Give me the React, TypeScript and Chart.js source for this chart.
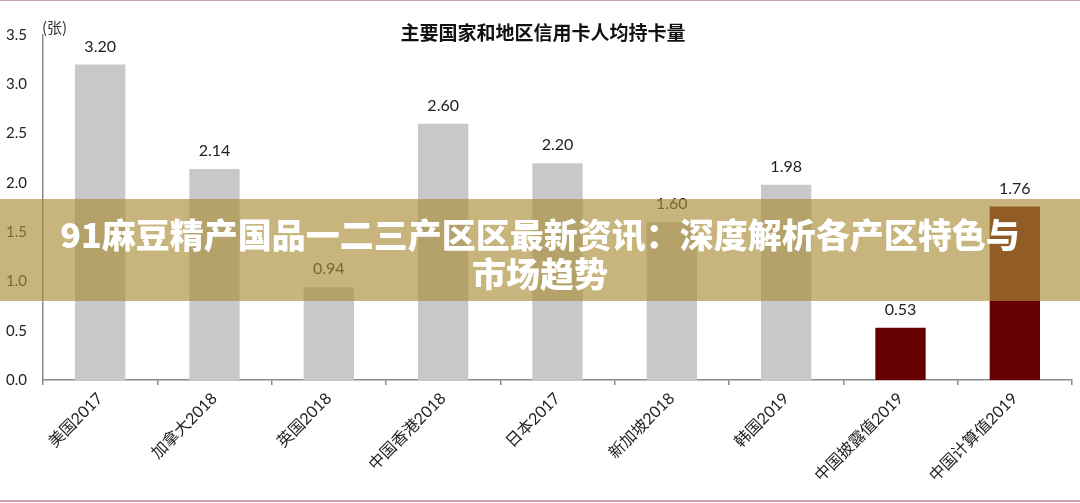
import React, { useEffect, useRef } from "react";
import { Chart, registerables } from "chart.js";

Chart.register(...registerables);

const categories = [
  "美国2017",
  "加拿大2018",
  "英国2018",
  "中国香港2018",
  "日本2017",
  "新加坡2018",
  "韩国2019",
  "中国披露值2019",
  "中国计算值2019",
];
const cardsPerPerson = [3.2, 2.14, 0.94, 2.6, 2.2, 1.6, 1.98, 0.53, 1.76];
const barColors = [
  "#c8c8c8",
  "#c8c8c8",
  "#c8c8c8",
  "#c8c8c8",
  "#c8c8c8",
  "#c8c8c8",
  "#c8c8c8",
  "#660000",
  "#660000",
];
const chartTitle = "主要国家和地区信用卡人均持卡量";
const unitLabel = "(张)";
const bannerLine1 = "91麻豆精产国品一二三产区区最新资讯：深度解析各产区特色与";
const bannerLine2 = "市场趋势";

const FONT = "Lato, 'Noto Sans CJK SC', sans-serif";

const labelPlugin = {
  id: "valueLabels",
  afterDatasetsDraw(chart: any) {
    const ctx = chart.ctx;
    const meta = chart.getDatasetMeta(0);
    ctx.save();
    ctx.font = `16px ${FONT}`;
    ctx.fillStyle = "#222222";
    ctx.textAlign = "center";
    ctx.textBaseline = "alphabetic";
    meta.data.forEach((bar: any, i: number) => {
      const v = chart.data.datasets[0].data[i] as number;
      ctx.fillText(v.toFixed(2), bar.x, bar.y - 13);
    });
    ctx.restore();
  },
  afterDraw(chart: any) {
    const ctx = chart.ctx;
    ctx.save();
    ctx.font = `bold 19px 'Noto Sans CJK SC', sans-serif`;
    ctx.fillStyle = "#111111";
    ctx.textAlign = "center";
    ctx.textBaseline = "middle";
    ctx.fillText(chartTitle, 543, 33);
    ctx.font = `15px 'Noto Sans CJK SC', sans-serif`;
    ctx.fillStyle = "#333333";
    ctx.textAlign = "left";
    ctx.fillText(unitLabel, 42, 27);
    ctx.restore();
  },
};

export default function App() {
  const canvasRef = useRef<HTMLCanvasElement | null>(null);

  useEffect(() => {
    document.body.style.margin = "0";
    const canvas = canvasRef.current;
    if (!canvas) return;
    const chart = new Chart(canvas, {
      type: "bar",
      data: {
        labels: categories,
        datasets: [
          {
            data: cardsPerPerson,
            backgroundColor: barColors,
            borderWidth: 0,
            categoryPercentage: 1,
            barPercentage: 0.44,
          },
        ],
      },
      options: {
        animation: false,
        responsive: true,
        maintainAspectRatio: false,
        layout: { padding: { top: 35, right: 8, left: 0, bottom: 3 } },
        plugins: {
          legend: { display: false },
          title: { display: false },
          tooltip: { enabled: false },
        },
        scales: {
          x: {
            offset: true,
            grid: {
              display: true,
              offset: true,
              drawOnChartArea: false,
              drawTicks: true,
              tickLength: 5,
              color: "#8a8a8a",
              lineWidth: 1.5,
            },
            border: { display: true, color: "#8a8a8a", width: 1.5 },
            ticks: {
              autoSkip: false,
              maxRotation: 45,
              minRotation: 45,
              padding: 4,
              color: "#222222",
              font: { size: 16, family: FONT },
            },
            afterFit: (s: any) => {
              s.height = 120;
            },
          },
          y: {
            min: 0,
            max: 3.5,
            grid: { display: false, drawTicks: false },
            border: { display: true, color: "#8a8a8a", width: 1.5 },
            ticks: {
              stepSize: 0.5,
              padding: 16,
              color: "#222222",
              font: { size: 15, family: FONT },
              callback: (v: any) => Number(v).toFixed(1),
            },
            afterFit: (s: any) => {
              s.width = 43;
            },
          },
        },
      },
      plugins: [labelPlugin],
    });
    return () => chart.destroy();
  }, []);

  return (
    <div
      style={{
        position: "fixed",
        left: 0,
        top: 0,
        width: 1080,
        height: 503,
        background: "#ffffff",
        overflow: "hidden",
      }}
    >
      <canvas ref={canvasRef} />
      <div
        style={{
          position: "absolute",
          left: 0,
          top: 199,
          width: 1080,
          height: 102,
          boxSizing: "border-box",
          paddingTop: 15,
          background: "rgba(171,141,57,0.65)",
          color: "#ffffff",
          fontFamily: "'Noto Sans CJK SC', sans-serif",
          fontWeight: 900,
          fontSize: 34,
          lineHeight: "39px",
          textAlign: "center",
          whiteSpace: "nowrap",
        }}
      >
        {bannerLine1}
        <br />
        {bannerLine2}
      </div>
      <div
        style={{
          position: "absolute",
          left: 0,
          top: 0,
          width: 1080,
          height: 1,
          background: "#c8a2a6",
        }}
      />
      <div
        style={{
          position: "absolute",
          left: 0,
          top: 500,
          width: 1080,
          height: 2,
          background: "#c8a2a6",
        }}
      />
    </div>
  );
}
